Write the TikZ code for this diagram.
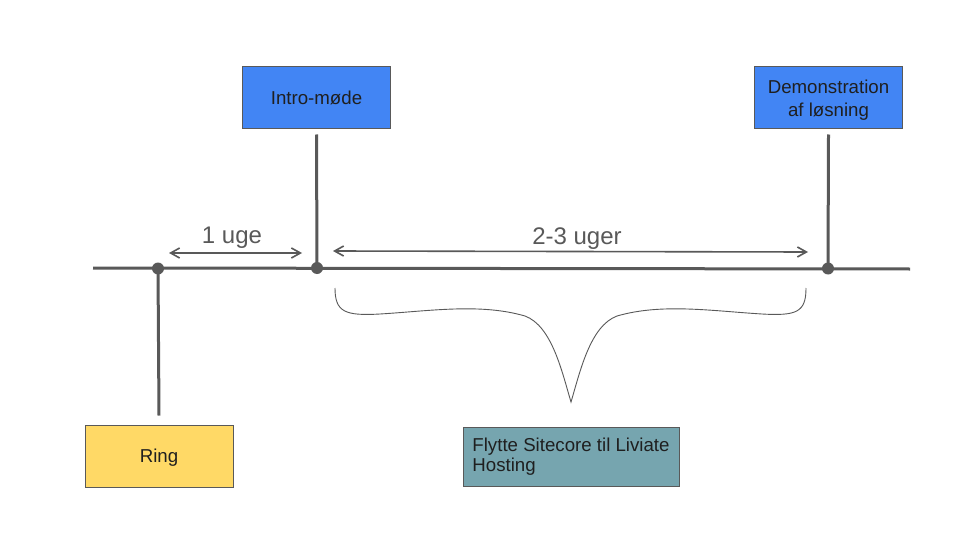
\documentclass[tikz,border=0pt]{standalone}
\usepackage{fontspec}
\setmainfont{Liberation Sans}
\usepackage{tikz}
\usetikzlibrary{arrows.meta}
\usetikzlibrary{positioning}
\definecolor{linecolour}{HTML}{595959}
\definecolor{introcolour}{HTML}{4285F4}
\definecolor{ringcolour}{HTML}{FFD966}
\definecolor{taskcolour}{HTML}{76A5AF}
\newcommand\linewd{3pt}
\newcommand\arrowwd{1.6pt}
\tikzset{>={Straight Barb[length=9pt,width=10pt]}}
\tikzstyle{phase}   = [draw=linecolour, line width=1pt, minimum width=148pt, minimum height=62pt,
                       align=center, font=\fontsize{18.67}{23}\selectfont, text=black!88]
\tikzstyle{oneline} = [text height=17.5pt, text depth=4pt]
\tikzstyle{dot}     = [circle, fill=linecolour, minimum size=12pt, inner sep=0pt]
\tikzstyle{stem}    = [draw=linecolour, line width=\linewd]
\tikzstyle{span}    = [draw=linecolour, line width=\arrowwd, <->]
\tikzstyle{spanlbl} = [text=linecolour, font=\fontsize{24}{28}\selectfont]

\begin{document}
\begin{tikzpicture}[x=1pt, y=-1pt]
  \useasboundingbox (0, 0) rectangle (960, 540);
  \fill[white] (0, 0) rectangle (960, 540);
  \coordinate (lstart) at (93, 268);
  \coordinate (lend) at (910, 269);
  \draw[stem] (lstart) -- (lend);
  \draw (158, 268.5) node[dot] (ringdot) {};
  \draw (317, 268) node[dot] (introdot) {};
  \draw (828, 268.5) node[dot] (demodot) {};
  \draw (316.5, 98) node[phase, oneline, fill=introcolour] (intro) {Intro-møde};
  \draw (828.5, 98) node[phase, fill=introcolour] (demo) {\rule{0pt}{18.5pt}Demonstration\\af løsning};
  \draw (159, 456) node[phase, oneline, fill=ringcolour] (ring) {Ring};
  \draw (571, 456.5) node[phase, fill=taskcolour, minimum width=216pt, minimum height=59pt,
    align=left, font=\fontsize{18.67}{20}\selectfont]
    (task) {Flytte Sitecore til Liviate\\Hosting};
  \draw[stem] (intro.south) ++(0, 5) -- (introdot.center);
  \draw[stem] (demo.south) ++(0, 5) -- (demodot.center);
  \draw[stem] (ring.north) ++(0, -9) -- (ringdot.center);
  % spans between the milestones
  \coordinate (w1a) at (169, 253);
  \coordinate (w1b) at (302, 253);
  \coordinate (w2a) at (333, 251);
  \coordinate (w2b) at (808, 252);
  \draw[span] (w1a) -- (w1b);
  \draw[span] (w2a) -- (w2b);
  \draw (232, 238) node[spanlbl] (w1lbl) {1 uge};
  \draw (577, 239) node[spanlbl] (w2lbl) {2-3 uger};
  % brace over the task
  \draw[linecolour, line width=0.9pt]
    (335, 288) .. controls (335, 312) and (345, 316) .. (380, 314)
    .. controls (430, 311) and (480, 303) .. (525, 316)
    .. controls (552, 326) and (562, 372) .. (571, 402)
    .. controls (580, 372) and (590, 326) .. (617, 316)
    .. controls (662, 303) and (712, 311) .. (762, 314)
    .. controls (797, 316) and (806, 312) .. (806, 288);
\end{tikzpicture}
\end{document}
